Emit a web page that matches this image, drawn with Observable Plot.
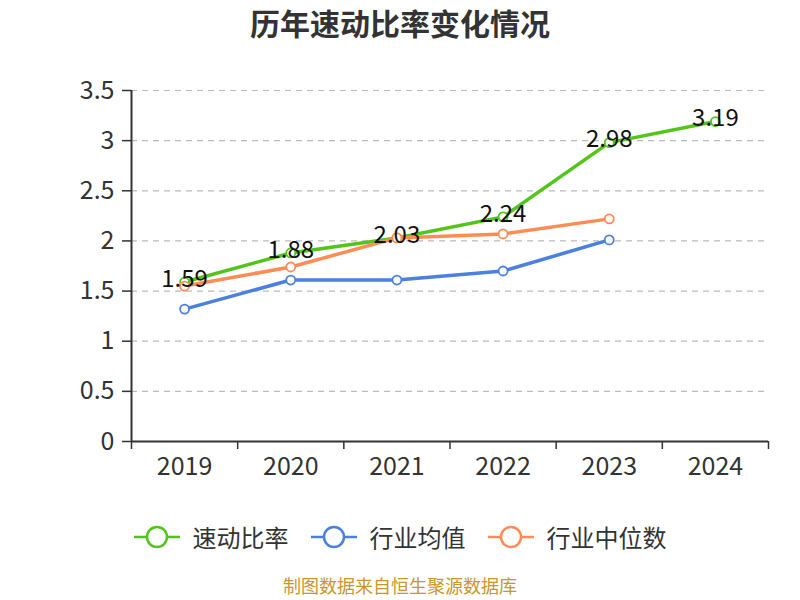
<!DOCTYPE html>
<html>
<head>
<meta charset="utf-8">
<script src="https://cdn.jsdelivr.net/npm/d3@7"></script>
<script src="https://cdn.jsdelivr.net/npm/@observablehq/plot@0.6"></script>
<style>
  html, body { margin: 0; padding: 0; background: #fff; }
  body { width: 800px; height: 600px; position: relative; font-family: "Noto Sans CJK SC", "Noto Sans", sans-serif; }
  #title { position: absolute; left: 0; width: 800px; top: 1px; text-align: center; font-size: 30px; line-height: 42px; font-weight: bold; color: #333; }
  #chart { position: absolute; left: 0; top: 0; }
  #legend { position: absolute; left: 0; width: 800px; top: 519px; display: flex; justify-content: center; gap: 22px; font-size: 24px; line-height: 36px; color: #333; align-items: center; }
  #legend .item { display: flex; align-items: center; gap: 13px; }
  #caption { position: absolute; left: 0; width: 800px; top: 575px; text-align: center; font-size: 18px; line-height: 20px; color: #c8962c; }
</style>
</head>
<body>
<div id="chart"></div>
<div id="title">历年速动比率变化情况</div>
<div id="legend"></div>
<div id="caption">制图数据来自恒生聚源数据库</div>
<script>
const years = [2019, 2020, 2021, 2022, 2023, 2024];
const quickRatio = [1.59, 1.88, 2.03, 2.24, 2.98, 3.19];
const industryMean = [1.32, 1.61, 1.61, 1.70, 2.01];
const industryMedian = [1.55, 1.74, 2.03, 2.07, 2.22];
const yTicks = [0, 0.5, 1, 1.5, 2, 2.5, 3, 3.5];
const seriesNames = ["速动比率", "行业均值", "行业中位数"];
const colors = ["#52c41a", "#4a80e0", "#ff8c55"];

const boundaries = [...years.map(y => y - 0.5), years[years.length - 1] + 0.5];

const rows = [];
[quickRatio, industryMean, industryMedian].forEach((vals, i) => {
  vals.forEach((v, j) => rows.push({ series: seriesNames[i], year: years[j], value: v }));
});
const greenRows = rows.filter(d => d.series === seriesNames[0]);

const plot = Plot.plot({
  width: 800,
  height: 600,
  marginTop: 90,
  marginBottom: 159,
  marginLeft: 131,
  marginRight: 32,
  style: { fontFamily: "'Noto Sans CJK SC', 'Noto Sans', sans-serif", background: "transparent" },
  x: { domain: [boundaries[0], boundaries[boundaries.length - 1]] },
  y: { domain: [0, 3.5] },
  color: { domain: seriesNames, range: colors },
  marks: [
    Plot.gridY(yTicks, { stroke: "#bbb", strokeOpacity: 1, strokeDasharray: "6,5", strokeWidth: 1.2 }),
    Plot.axisY(yTicks, { tickSize: 9, tickPadding: 8, fontSize: 25, fill: "#333", stroke: "#333", strokeWidth: 1.5, tickFormat: d => String(d), label: null }),
    Plot.axisX(boundaries, { tickSize: 8, tickFormat: () => "", stroke: "#333", strokeWidth: 1.5, label: null }),
    Plot.axisX(years, { tickSize: 0, tickPadding: 16, fontSize: 25, fill: "#333", tickFormat: d => String(d), label: null }),
    Plot.ruleX([boundaries[0]], { stroke: "#333", strokeWidth: 2 }),
    Plot.ruleY([0], { stroke: "#333", strokeWidth: 2 }),
    Plot.line(rows, { x: "year", y: "value", stroke: "series", z: "series", strokeWidth: 3.5 }),
    Plot.dot(rows, { x: "year", y: "value", stroke: "series", fill: "white", r: 4.5, strokeWidth: 1.8 }),
    Plot.text(greenRows, { x: "year", y: "value", text: d => d.value.toFixed(2), fontSize: 24, fill: "#111", dy: -3 })
  ]
});
document.getElementById("chart").appendChild(plot);

const legend = document.getElementById("legend");
seriesNames.forEach((name, i) => {
  const item = document.createElement("div");
  item.className = "item";
  item.innerHTML = `<svg width="46" height="26"><line x1="0" x2="46" y1="13" y2="13" stroke="${colors[i]}" stroke-width="2.5"/><circle cx="23" cy="13" r="10" fill="white" stroke="${colors[i]}" stroke-width="2.5"/></svg><span>${name}</span>`;
  legend.appendChild(item);
});
</script>
</body>
</html>
